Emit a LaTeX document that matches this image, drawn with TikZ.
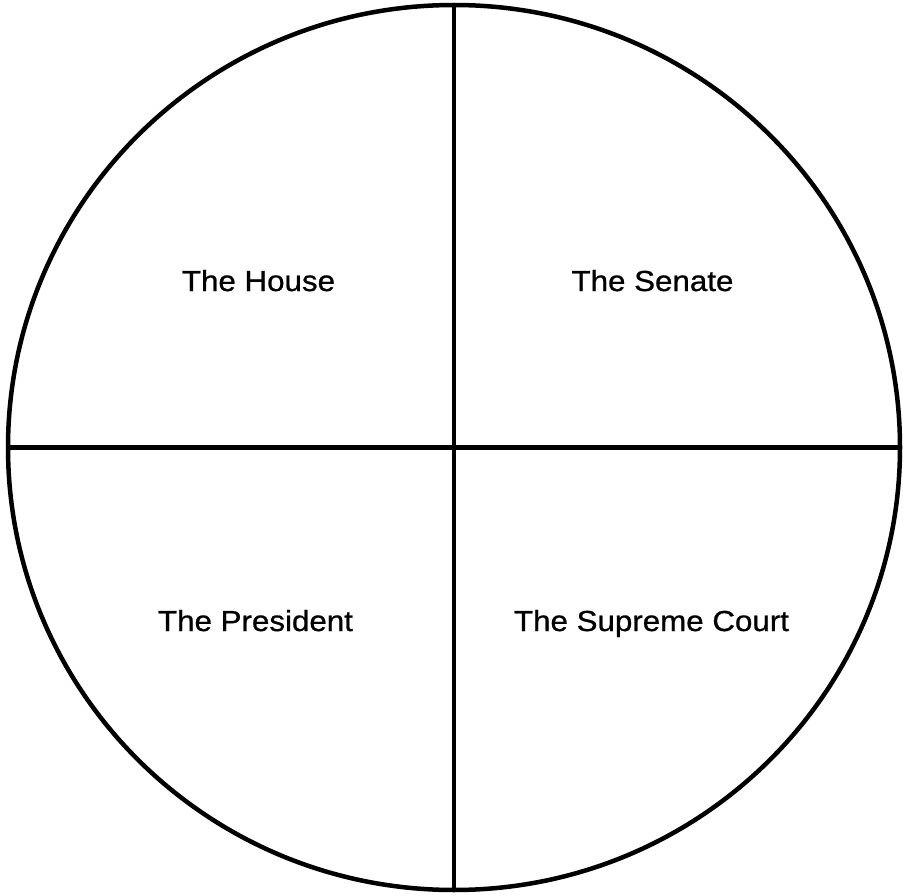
\documentclass[tikz,border=0pt]{standalone}
\usepackage{fontspec}
\setmainfont[FakeStretch=1.08]{Liberation Sans}
\newfontfamily\labelfont[FakeStretch=1.08,FakeBold=0.8]{Liberation Sans}
\usetikzlibrary{shapes.geometric}
\begin{document}
\begin{tikzpicture}[x=1pt,y=-1pt,
  ring/.style={draw=black, ellipse, line width=4.5pt, inner sep=0pt, outer sep=0pt,
    minimum width=892pt, minimum height=885pt},
  divider/.style={draw=black, line width=4.5pt},
  label/.style={anchor=base, inner sep=0pt, font=\labelfont\fontsize{29}{34}\selectfont}]
\useasboundingbox (0,0) rectangle (903,896);
\node[ring] (c) at (454,447.5) {};
\draw[divider] (c.north) -- (c.south);
\draw[divider] (c.west) -- (c.east);
\node[label] (house) at (258.5,291) {The House};
\node[label] (senate) at (652.5,291) {The Senate};
\node[label] (pres) at (255.5,631) {The President};
\node[label] (court) at (651.5,631) {The Supreme Court};
\end{tikzpicture}
\end{document}
